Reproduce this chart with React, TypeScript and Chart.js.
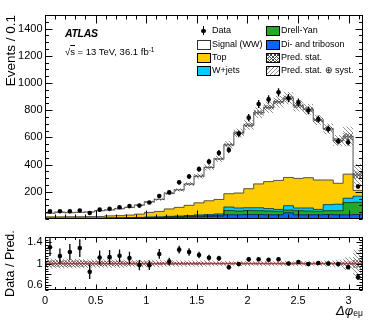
import React, { useEffect, useRef } from 'react';
import { Chart, registerables } from 'chart.js';

Chart.register(...registerables);

const FONT = '"Liberation Sans", Arial, Helvetica, sans-serif';
Chart.defaults.font.family = FONT;

// ---------------- data ----------------
const NBINS = 32;
const X_MAX = Math.PI;
const BIN_W = X_MAX / NBINS;

const dataCounts = [55, 56, 56, 62, 43, 68, 74, 86, 94, 98, 121, 169, 195, 269, 312, 366, 421, 485, 507, 626, 745, 845, 879, 931, 888, 857, 798, 734, 662, 571, 564, 238];
const dataErr = [7, 7, 7, 8, 7, 8, 9, 9, 10, 10, 11, 13, 14, 16, 18, 19, 21, 22, 23, 25, 27, 29, 30, 31, 30, 29, 28, 27, 26, 24, 24, 15];

const diboson = [3, 3, 3, 3, 3, 3, 4, 4, 5, 6, 7, 8, 10, 12, 14, 16, 18, 20, 30, 30, 32, 32, 30, 30, 45, 30, 30, 30, 32, 30, 30, 32];
const drellYan = [1, 1, 1, 1, 1, 1, 1, 2, 2, 2, 3, 3, 4, 4, 5, 6, 6, 7, 32, 28, 30, 28, 28, 26, 20, 30, 28, 26, 28, 30, 90, 90];
const wjets = [2, 2, 2, 2, 2, 2, 2, 2, 3, 3, 4, 4, 5, 5, 6, 7, 8, 9, 25, 22, 20, 22, 18, 14, 32, 20, 22, 14, 45, 48, 32, 45];
const topQuark = [9, 9, 10, 10, 11, 12, 15, 16, 18, 24, 34, 40, 54, 64, 75, 89, 101, 107, 98, 110, 140, 175, 198, 213, 208, 218, 223, 216, 181, 154, 177, 43];
const signalWW = [27, 34, 30, 32, 34, 43, 44, 51, 57, 66, 77, 88, 115, 128, 156, 197, 246, 298, 360, 442, 468, 525, 547, 579, 583, 534, 503, 441, 376, 315, 277, 112];

const statRel = [0.06, 0.06, 0.06, 0.06, 0.05, 0.05, 0.05, 0.05, 0.04, 0.04, 0.04, 0.03, 0.03, 0.03, 0.03, 0.03, 0.02, 0.02, 0.02, 0.02, 0.02, 0.02, 0.02, 0.02, 0.02, 0.02, 0.02, 0.02, 0.02, 0.03, 0.04, 0.08];
const totRel = [0.09, 0.09, 0.09, 0.09, 0.08, 0.08, 0.08, 0.08, 0.07, 0.07, 0.07, 0.07, 0.06, 0.06, 0.06, 0.06, 0.06, 0.05, 0.05, 0.05, 0.05, 0.05, 0.05, 0.05, 0.05, 0.05, 0.05, 0.05, 0.06, 0.07, 0.12, 0.26];

const xMajorTicks = [0, 0.5, 1, 1.5, 2, 2.5, 3];
const yMainTicks = [200, 400, 600, 800, 1000, 1200, 1400];
const yRatioTicks = [0.6, 0.8, 1, 1.2, 1.4];
const Y_MAIN_MAX = 1500;
const RATIO_MIN = 0.5;
const RATIO_MAX = 1.5;

const COL = {
  top: '#ffcc00',
  wjets: '#00ccff',
  dy: '#22aa22',
  diboson: '#0a64f5',
  signal: '#ffffff',
};

// ---------------- derived ----------------
const edges = Array.from({ length: NBINS + 1 }, (_, i) => i * BIN_W);
const centers = Array.from({ length: NBINS }, (_, i) => (i + 0.5) * BIN_W);
const components = [diboson, drellYan, wjets, topQuark, signalWW];
const cumulative = components.map((_, k) =>
  centers.map((_, i) => components.slice(0, k + 1).reduce((s, a) => s + a[i], 0))
);
const prediction = cumulative[cumulative.length - 1];
const ratio = dataCounts.map((d, i) => d / prediction[i]);
const ratioErr = dataErr.map((e, i) => e / prediction[i]);
const ones = centers.map(() => 1);

const xMinor = Array.from({ length: 32 }, (_, i) => +(i * 0.1).toFixed(2));
const yMainMinor = Array.from({ length: 31 }, (_, i) => i * 50);
const yRatioMinor = Array.from({ length: 21 }, (_, i) => +(0.5 + i * 0.05).toFixed(2));

// ---------------- patterns ----------------
function makePattern(ctx: CanvasRenderingContext2D, color: string, s: number, cross: boolean, lw: number) {
  const c = document.createElement('canvas');
  c.width = s;
  c.height = s;
  const g = c.getContext('2d')!;
  g.strokeStyle = color;
  g.lineWidth = lw;
  g.beginPath();
  g.moveTo(0, 0); g.lineTo(s, s);
  g.moveTo(-1, s - 1); g.lineTo(1, s + 1);
  g.moveTo(s - 1, -1); g.lineTo(s + 1, 1);
  if (cross) {
    g.moveTo(s, 0); g.lineTo(0, s);
    g.moveTo(-1, 1); g.lineTo(1, -1);
    g.moveTo(s - 1, s + 1); g.lineTo(s + 1, s - 1);
  }
  g.stroke();
  return ctx.createPattern(c, 'repeat')!;
}

// ---------------- plugins ----------------
function makeFramePlugin(cfg: {
  yMajor: number[]; yMinor: number[];
  xMajLen: number; xMinLen: number; yMajLen: number; yMinLen: number;
}) {
  return {
    id: 'atlasFrame',
    afterDraw(chart: any) {
      const { ctx, chartArea: a, scales } = chart;
      const xs = scales.x;
      const ys = scales.y;
      ctx.save();
      ctx.strokeStyle = '#000';
      ctx.lineWidth = 1;
      const L = Math.round(a.left) + 0.5;
      const R = Math.round(a.right) - 0.5;
      const T = Math.round(a.top) + 0.5;
      const B = Math.round(a.bottom) - 0.5;
      ctx.strokeRect(L, T, R - L, B - T);
      ctx.beginPath();
      const vt = (v: number, len: number) => {
        const px = Math.round(xs.getPixelForValue(v)) + 0.5;
        ctx.moveTo(px, B); ctx.lineTo(px, B - len);
        ctx.moveTo(px, T); ctx.lineTo(px, T + len);
      };
      const ht = (v: number, len: number) => {
        const py = Math.round(ys.getPixelForValue(v)) + 0.5;
        ctx.moveTo(L, py); ctx.lineTo(L + len, py);
        ctx.moveTo(R, py); ctx.lineTo(R - len, py);
      };
      xMinor.forEach((v) => vt(v, cfg.xMinLen));
      xMajorTicks.forEach((v) => vt(v, cfg.xMajLen));
      cfg.yMinor.forEach((v) => ht(v, cfg.yMinLen));
      cfg.yMajor.forEach((v) => ht(v, cfg.yMajLen));
      ctx.stroke();
      ctx.restore();
    },
  };
}

function makeBandsPlugin(cfg: {
  center: number[]; pointsIndex: number; ptsY: number[]; ptsErr: number[]; bandsFirst: boolean;
}) {
  let systPat: CanvasPattern | null = null;
  let statPat: CanvasPattern | null = null;
  const drawBands = (chart: any) => {
    const { ctx, chartArea: a, scales } = chart;
    const xs = scales.x;
    const ys = scales.y;
    if (!systPat) systPat = makePattern(ctx, 'rgba(120,120,120,0.9)', 4, false, 0.9);
    if (!statPat) statPat = makePattern(ctx, 'rgba(60,60,60,0.9)', 3, true, 0.7);
    ctx.save();
    ctx.beginPath();
    ctx.rect(a.left, a.top, a.right - a.left, a.bottom - a.top);
    ctx.clip();
    for (let i = 0; i < NBINS; i++) {
      const x0 = xs.getPixelForValue(edges[i]);
      const x1 = xs.getPixelForValue(edges[i + 1]);
      const c = cfg.center[i];
      const tHi = ys.getPixelForValue(c * (1 + totRel[i]));
      const tLo = ys.getPixelForValue(c * (1 - totRel[i]));
      ctx.fillStyle = systPat;
      ctx.fillRect(x0, tHi, x1 - x0, tLo - tHi);
      const sHi = ys.getPixelForValue(c * (1 + statRel[i]));
      const sLo = ys.getPixelForValue(c * (1 - statRel[i]));
      ctx.fillStyle = statPat;
      ctx.fillRect(x0, sHi, x1 - x0, sLo - sHi);
    }
    ctx.restore();
  };
  const drawErrors = (chart: any) => {
    const { ctx, chartArea: a, scales } = chart;
    const xs = scales.x;
    const ys = scales.y;
    ctx.save();
    ctx.beginPath();
    ctx.rect(a.left, a.top, a.right - a.left, a.bottom - a.top);
    ctx.clip();
    ctx.strokeStyle = '#000';
    ctx.lineWidth = 1.3;
    ctx.beginPath();
    for (let i = 0; i < NBINS; i++) {
      const px = xs.getPixelForValue(centers[i]);
      ctx.moveTo(px, ys.getPixelForValue(cfg.ptsY[i] + cfg.ptsErr[i]));
      ctx.lineTo(px, ys.getPixelForValue(cfg.ptsY[i] - cfg.ptsErr[i]));
    }
    ctx.stroke();
    ctx.restore();
  };
  return {
    id: 'atlasBands',
    beforeDatasetsDraw(chart: any) {
      if (cfg.bandsFirst) drawBands(chart);
    },
    beforeDatasetDraw(chart: any, args: any) {
      if (args.index !== cfg.pointsIndex) return;
      if (!cfg.bandsFirst) drawBands(chart);
      drawErrors(chart);
    },
  };
}

const tickFont = { family: FONT, size: 11 };

function stepLine(values: number[], color: string, width: number, idx: number) {
  return {
    type: 'line',
    data: edges.map((x, i) => ({ x, y: values[Math.min(i, NBINS - 1)] })),
    stepped: 'before',
    borderColor: color,
    borderWidth: width,
    pointRadius: 0,
    fill: false,
    stack: 'outline' + idx,
    order: 2,
  };
}

function barSet(values: number[], color: string) {
  return {
    type: 'bar',
    data: centers.map((x, i) => ({ x, y: values[i] })),
    backgroundColor: color,
    borderWidth: 0,
    barPercentage: 1,
    categoryPercentage: 1,
    order: 3,
  };
}

function topConfig(): any {
  const datasets: any[] = [
    {
      type: 'scatter',
      data: centers.map((x, i) => ({ x, y: dataCounts[i] })),
      pointRadius: 2.3,
      pointBackgroundColor: '#000',
      pointBorderWidth: 0,
      stack: 'points',
      order: 0,
    },
    stepLine(cumulative[0], '#1a1a1a', 0.7, 0),
    stepLine(cumulative[1], '#1a1a1a', 0.7, 1),
    stepLine(cumulative[2], '#1a1a1a', 0.7, 2),
    stepLine(cumulative[3], '#555555', 1, 3),
    stepLine(cumulative[4], '#7a7a7a', 1.3, 4),
    barSet(diboson, COL.diboson),
    barSet(drellYan, COL.dy),
    barSet(wjets, COL.wjets),
    barSet(topQuark, COL.top),
    barSet(signalWW, COL.signal),
  ];
  return {
    type: 'bar',
    data: { datasets },
    options: {
      animation: false,
      responsive: false,
      events: [],
      layout: { padding: { top: 15, right: 19, left: 0, bottom: 0 } },
      plugins: { legend: { display: false }, tooltip: { enabled: false } },
      scales: {
        x: {
          type: 'linear', min: 0, max: X_MAX, stacked: true, offset: false,
          grid: { display: false, drawTicks: false, offset: false },
          border: { display: false },
          ticks: { display: false },
          afterBuildTicks: (s: any) => { s.ticks = xMajorTicks.map((value) => ({ value })); },
          afterFit: (s: any) => { s.height = 3; },
        },
        y: {
          type: 'linear', min: 0, max: Y_MAIN_MAX, stacked: true,
          grid: { display: false, drawTicks: false },
          border: { display: false },
          ticks: { font: tickFont, color: '#000', padding: 2.5, callback: (v: any) => `${v}` },
          afterBuildTicks: (s: any) => { s.ticks = yMainTicks.map((value) => ({ value })); },
          afterFit: (s: any) => { s.width = 45; },
          title: {
            display: true, text: 'Events / 0.1', align: 'end', color: '#000',
            font: { family: FONT, size: 13.5 }, padding: { top: 3.5, bottom: 0 },
          },
        },
      },
    },
    plugins: [
      makeBandsPlugin({ center: prediction, pointsIndex: 0, ptsY: dataCounts, ptsErr: dataErr, bandsFirst: false }),
      makeFramePlugin({ yMajor: yMainTicks, yMinor: yMainMinor, xMajLen: 8, xMinLen: 4, yMajLen: 7, yMinLen: 3.5 }),
    ],
  };
}

function bottomConfig(): any {
  return {
    type: 'scatter',
    data: {
      datasets: [
        {
          type: 'scatter',
          data: centers.map((x, i) => ({ x, y: ratio[i] })),
          pointRadius: 2.3,
          pointBackgroundColor: '#000',
          pointBorderWidth: 0,
          order: 0,
        },
        {
          type: 'line',
          data: [{ x: 0, y: ones[0] }, { x: X_MAX, y: ones[NBINS - 1] }],
          borderColor: 'rgb(232,36,36)',
          borderWidth: 1.6,
          pointRadius: 0,
          fill: false,
          order: 1,
        },
      ],
    },
    options: {
      animation: false,
      responsive: false,
      events: [],
      layout: { padding: { top: 2, right: 19, left: 0, bottom: 0 } },
      plugins: { legend: { display: false }, tooltip: { enabled: false } },
      scales: {
        x: {
          type: 'linear', min: 0, max: X_MAX, offset: false,
          grid: { display: false, drawTicks: false },
          border: { display: false },
          ticks: { font: tickFont, color: '#000', padding: 4, maxRotation: 0, autoSkip: false, callback: (v: any) => `${v}` },
          afterBuildTicks: (s: any) => { s.ticks = xMajorTicks.map((value) => ({ value })); },
          afterFit: (s: any) => { s.height = 33; },
        },
        y: {
          type: 'linear', min: RATIO_MIN, max: RATIO_MAX,
          grid: { display: false, drawTicks: false },
          border: { display: false },
          ticks: { font: tickFont, color: '#000', padding: 2.5, callback: (v: any) => `${v}` },
          afterBuildTicks: (s: any) => { s.ticks = yRatioTicks.map((value) => ({ value })); },
          afterFit: (s: any) => { s.width = 45; },
          title: {
            display: true, text: 'Data / Pred.', align: 'center', color: '#000',
            font: { family: FONT, size: 12.5 }, padding: { top: 3.5, bottom: 0 },
          },
        },
      },
    },
    plugins: [
      makeBandsPlugin({ center: ones, pointsIndex: 0, ptsY: ratio, ptsErr: ratioErr, bandsFirst: true }),
      makeFramePlugin({ yMajor: yRatioTicks, yMinor: yRatioMinor, xMajLen: 5, xMinLen: 2.5, yMajLen: 6, yMinLen: 3 }),
    ],
  };
}

// ---------------- legend ----------------
const legendCol1 = [
  { label: 'Data', kind: 'data', fill: '' },
  { label: 'Signal (WW)', kind: 'box', fill: COL.signal },
  { label: 'Top', kind: 'box', fill: COL.top },
  { label: 'W+jets', kind: 'box', fill: COL.wjets },
];
const legendCol2 = [
  { label: 'Drell-Yan', kind: 'box', fill: COL.dy },
  { label: 'Di- and triboson', kind: 'box', fill: COL.diboson },
  { label: 'Pred. stat.', kind: 'stat', fill: '' },
  { label: 'Pred. stat. \u2295 syst.', kind: 'syst', fill: '' },
];
const rowY = [30.7, 44, 57.3, 70.7];

function LegendEntry({ e, y, boxX, textX }: any) {
  const boxStyle: React.CSSProperties = {
    position: 'absolute', left: boxX, top: y - 4.5, width: 12, height: 8,
    border: '1px solid #000', boxSizing: 'content-box',
  };
  let marker: React.ReactNode;
  if (e.kind === 'data') {
    marker = (
      <>
        <div style={{ position: 'absolute', left: boxX + 6, top: y - 4.5, width: 1.3, height: 9, background: '#000' }} />
        <div style={{ position: 'absolute', left: boxX + 4.4, top: y - 2.2, width: 4.6, height: 4.6, borderRadius: '50%', background: '#000' }} />
      </>
    );
  } else if (e.kind === 'stat') {
    marker = <div style={{ ...boxStyle, background: 'repeating-linear-gradient(45deg, #444 0 0.8px, transparent 0.8px 2.5px), repeating-linear-gradient(-45deg, #444 0 0.8px, transparent 0.8px 2.5px)' }} />;
  } else if (e.kind === 'syst') {
    marker = <div style={{ ...boxStyle, background: 'repeating-linear-gradient(-45deg, #888 0 0.8px, #fff 0.8px 3px)' }} />;
  } else {
    marker = <div style={{ ...boxStyle, background: e.fill, borderColor: e.fill === '#ffffff' ? '#333' : '#000' }} />;
  }
  return (
    <>
      {marker}
      <div style={{ position: 'absolute', left: textX, top: y - 5.4, fontSize: 9, lineHeight: '11px', whiteSpace: 'nowrap', color: '#000' }}>
        {e.label}
      </div>
    </>
  );
}

export default function App() {
  const topRef = useRef<HTMLCanvasElement>(null);
  const botRef = useRef<HTMLCanvasElement>(null);

  useEffect(() => {
    const c1 = new Chart(topRef.current as HTMLCanvasElement, topConfig());
    const c2 = new Chart(botRef.current as HTMLCanvasElement, bottomConfig());
    return () => {
      c1.destroy();
      c2.destroy();
    };
  }, []);

  return (
    <div style={{ position: 'fixed', left: 0, top: 0, width: 382, height: 323, background: '#fff', fontFamily: FONT, overflow: 'hidden' }}>
      <canvas ref={topRef} width={382} height={228} style={{ position: 'absolute', left: 0, top: 0, width: 382, height: 228 }} />
      <canvas ref={botRef} width={382} height={95} style={{ position: 'absolute', left: 0, top: 228, width: 382, height: 95 }} />

      <div style={{ position: 'absolute', left: 65, top: 27.4, fontSize: 10.5, lineHeight: '12px', fontWeight: 'bold', fontStyle: 'italic', letterSpacing: -0.3 }}>
        ATLAS
      </div>
      <div style={{ position: 'absolute', left: 65, top: 46.2, fontSize: 9.5, lineHeight: '11px', whiteSpace: 'nowrap' }}>
        {'\u221A'}<span style={{ textDecoration: 'overline' }}>s</span> = 13 TeV, 36.1 fb<sup style={{ fontSize: 6.5, verticalAlign: 'top', position: 'relative', top: -2 }}>-1</sup>
      </div>

      {legendCol1.map((e, i) => (
        <LegendEntry key={'a' + i} e={e} y={rowY[i]} boxX={197} textX={212} />
      ))}
      {legendCol2.map((e, i) => (
        <LegendEntry key={'b' + i} e={e} y={rowY[i]} boxX={266} textX={281} />
      ))}

      <div style={{ position: 'absolute', left: 336, top: 303, fontSize: 13, lineHeight: '15px', whiteSpace: 'nowrap' }}>
        <span style={{ fontStyle: 'italic' }}>{'\u0394\u03C6'}</span>
        <sub style={{ fontSize: 8.5, position: 'relative', top: 1, verticalAlign: 'baseline' }}>e{'\u03BC'}</sub>
      </div>
    </div>
  );
}
